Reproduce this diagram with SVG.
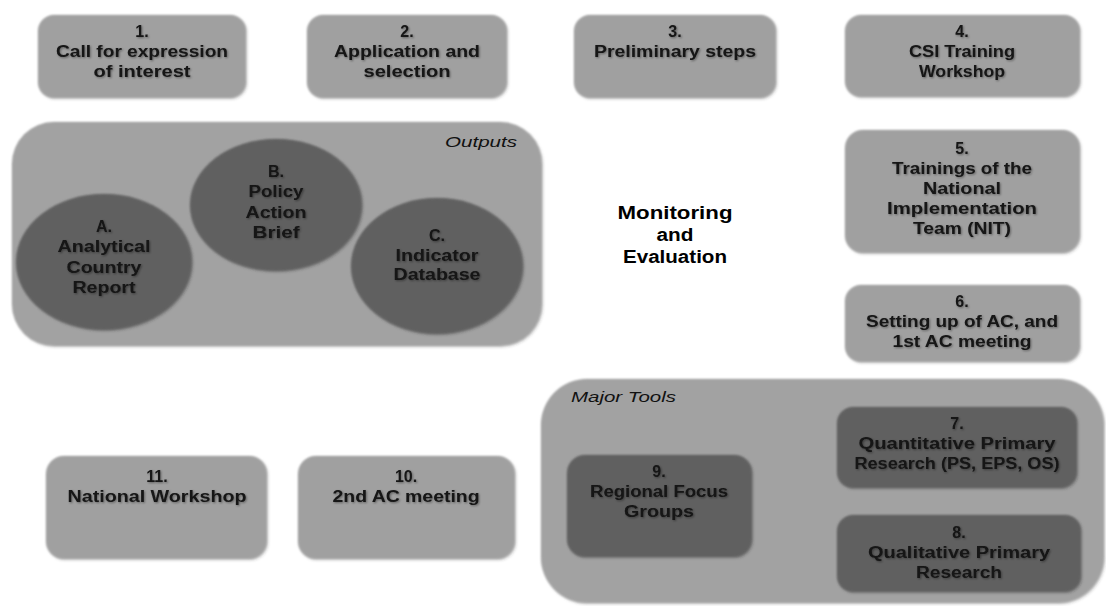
<svg xmlns="http://www.w3.org/2000/svg" width="1106" height="606" viewBox="0 0 1106 606">
  <defs>
    <filter id="soft" x="-10%" y="-10%" width="120%" height="120%">
      <feGaussianBlur in="SourceAlpha" stdDeviation="1.8" result="b"/>
      <feOffset in="b" dx="0.5" dy="1" result="o"/>
      <feFlood flood-color="#000" flood-opacity="0.3"/>
      <feComposite in2="o" operator="in" result="s"/>
      <feGaussianBlur in="SourceGraphic" stdDeviation="0.9" result="g"/>
      <feMerge><feMergeNode in="s"/><feMergeNode in="g"/></feMerge>
    </filter>
    <filter id="tshadow" x="-10%" y="-30%" width="120%" height="160%">
      <feGaussianBlur in="SourceAlpha" stdDeviation="1.2" result="b"/>
      <feOffset in="b" dx="0.8" dy="1" result="o"/>
      <feFlood flood-color="#000" flood-opacity="0.4"/>
      <feComposite in2="o" operator="in" result="s"/>
      <feMerge><feMergeNode in="s"/><feMergeNode in="SourceGraphic"/></feMerge>
    </filter>
  </defs>
  <style>
    .light { fill: #a0a0a0; filter: url(#soft); }
    .dark { fill: #616161; filter: url(#soft); }
    .cont { fill: #a2a2a2; filter: url(#soft); }
    .t { font-family: "Liberation Sans", Arial, sans-serif; font-weight: bold; font-size: 16px; fill: #141414; text-anchor: middle; filter: url(#tshadow); }
    .lab { font-family: "Liberation Sans", Arial, sans-serif; font-style: italic; font-size: 15px; fill: #111; }
    .me { font-family: "Liberation Sans", Arial, sans-serif; font-weight: bold; font-size: 18px; fill: #000; text-anchor: middle; }
  </style>
  <rect width="1106" height="606" fill="#fff"/>

  <g id="outputs">
    <rect class="cont" x="12" y="122" width="530" height="224" rx="42"/>
    <text class="lab" x="517" y="147" text-anchor="end" textLength="72" lengthAdjust="spacingAndGlyphs">Outputs</text>
  </g>
  <g id="nodeA">
    <ellipse class="dark" cx="104" cy="262" rx="88" ry="68"/>
    <text class="t"><tspan x="104" y="232">A.</tspan><tspan x="104" y="252" textLength="93" lengthAdjust="spacingAndGlyphs">Analytical</tspan><tspan x="104" y="273" textLength="75" lengthAdjust="spacingAndGlyphs">Country</tspan><tspan x="104" y="293" textLength="63" lengthAdjust="spacingAndGlyphs">Report</tspan></text>
  </g>
  <g id="nodeB">
    <ellipse class="dark" cx="276" cy="205" rx="86" ry="66"/>
    <text class="t"><tspan x="276" y="177">B.</tspan><tspan x="276" y="197" textLength="55" lengthAdjust="spacingAndGlyphs">Policy</tspan><tspan x="276" y="218" textLength="61" lengthAdjust="spacingAndGlyphs">Action</tspan><tspan x="276" y="238" textLength="47" lengthAdjust="spacingAndGlyphs">Brief</tspan></text>
  </g>
  <g id="nodeC">
    <ellipse class="dark" cx="437" cy="266" rx="86" ry="68"/>
    <text class="t"><tspan x="437" y="241">C.</tspan><tspan x="437" y="261" textLength="83" lengthAdjust="spacingAndGlyphs">Indicator</tspan><tspan x="437" y="280" textLength="87" lengthAdjust="spacingAndGlyphs">Database</tspan></text>
  </g>

  <g id="node1">
    <rect class="light" x="38" y="15" width="208" height="83" rx="16"/>
    <text class="t"><tspan x="142" y="37">1.</tspan><tspan x="142" y="57" textLength="172" lengthAdjust="spacingAndGlyphs">Call for expression</tspan><tspan x="142" y="77" textLength="97" lengthAdjust="spacingAndGlyphs">of interest</tspan></text>
  </g>
  <g id="node2">
    <rect class="light" x="307" y="15" width="200" height="83" rx="16"/>
    <text class="t"><tspan x="407" y="37">2.</tspan><tspan x="407" y="57" textLength="146" lengthAdjust="spacingAndGlyphs">Application and</tspan><tspan x="407" y="77" textLength="87" lengthAdjust="spacingAndGlyphs">selection</tspan></text>
  </g>
  <g id="node3">
    <rect class="light" x="574" y="15" width="202" height="83" rx="16"/>
    <text class="t"><tspan x="675" y="37">3.</tspan><tspan x="675" y="57" textLength="162" lengthAdjust="spacingAndGlyphs">Preliminary steps</tspan></text>
  </g>
  <g id="node4">
    <rect class="light" x="845" y="15" width="235" height="82" rx="16"/>
    <text class="t"><tspan x="962" y="37">4.</tspan><tspan x="962" y="57" textLength="106" lengthAdjust="spacingAndGlyphs">CSI Training</tspan><tspan x="962" y="77" textLength="86" lengthAdjust="spacingAndGlyphs">Workshop</tspan></text>
  </g>
  <g id="node5">
    <rect class="light" x="845" y="130" width="235" height="123" rx="18"/>
    <text class="t"><tspan x="962" y="154">5.</tspan><tspan x="962" y="174" textLength="140" lengthAdjust="spacingAndGlyphs">Trainings of the</tspan><tspan x="962" y="194" textLength="78" lengthAdjust="spacingAndGlyphs">National</tspan><tspan x="962" y="214" textLength="150" lengthAdjust="spacingAndGlyphs">Implementation</tspan><tspan x="962" y="234" textLength="98" lengthAdjust="spacingAndGlyphs">Team (NIT)</tspan></text>
  </g>
  <g id="node6">
    <rect class="light" x="845" y="285" width="235" height="77" rx="16"/>
    <text class="t"><tspan x="962" y="307">6.</tspan><tspan x="962" y="327" textLength="192" lengthAdjust="spacingAndGlyphs">Setting up of AC, and</tspan><tspan x="962" y="347" textLength="139" lengthAdjust="spacingAndGlyphs">1st AC meeting</tspan></text>
  </g>

  <g id="monitoring">
    <text class="me"><tspan x="675" y="219" textLength="115" lengthAdjust="spacingAndGlyphs">Monitoring</tspan><tspan x="675" y="241" textLength="37" lengthAdjust="spacingAndGlyphs">and</tspan><tspan x="675" y="263" textLength="104" lengthAdjust="spacingAndGlyphs">Evaluation</tspan></text>
  </g>

  <g id="majortools">
    <rect class="cont" x="541" y="379" width="563" height="224" rx="46"/>
    <text class="lab" x="571" y="402" textLength="105" lengthAdjust="spacingAndGlyphs">Major Tools</text>
  </g>
  <g id="node7">
    <rect class="dark" x="837" y="407" width="240" height="81" rx="16"/>
    <text class="t"><tspan x="957" y="429">7.</tspan><tspan x="957" y="449" textLength="197" lengthAdjust="spacingAndGlyphs">Quantitative Primary</tspan><tspan x="957" y="469" textLength="205" lengthAdjust="spacingAndGlyphs">Research (PS, EPS, OS)</tspan></text>
  </g>
  <g id="node8">
    <rect class="dark" x="837" y="515" width="244" height="77" rx="16"/>
    <text class="t"><tspan x="959" y="538">8.</tspan><tspan x="959" y="558" textLength="182" lengthAdjust="spacingAndGlyphs">Qualitative Primary</tspan><tspan x="959" y="578" textLength="86" lengthAdjust="spacingAndGlyphs">Research</tspan></text>
  </g>
  <g id="node9">
    <rect class="dark" x="567" y="455" width="185" height="102" rx="18"/>
    <text class="t"><tspan x="659" y="477">9.</tspan><tspan x="659" y="497" textLength="138" lengthAdjust="spacingAndGlyphs">Regional Focus</tspan><tspan x="659" y="517" textLength="70" lengthAdjust="spacingAndGlyphs">Groups</tspan></text>
  </g>

  <g id="node10">
    <rect class="light" x="298" y="456" width="217" height="103" rx="18"/>
    <text class="t"><tspan x="406" y="482">10.</tspan><tspan x="406" y="502" textLength="147" lengthAdjust="spacingAndGlyphs">2nd AC meeting</tspan></text>
  </g>
  <g id="node11">
    <rect class="light" x="46" y="456" width="221" height="103" rx="18"/>
    <text class="t"><tspan x="157" y="482">11.</tspan><tspan x="157" y="502" textLength="179" lengthAdjust="spacingAndGlyphs">National Workshop</tspan></text>
  </g>

  <g id="connectors"/>
</svg>
